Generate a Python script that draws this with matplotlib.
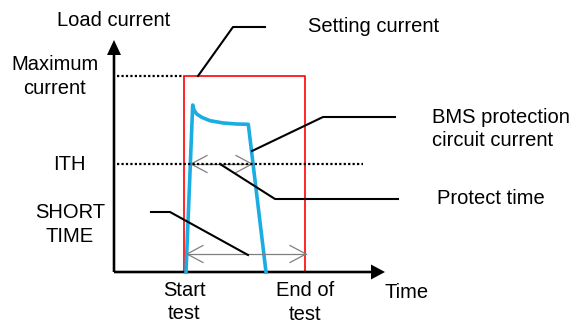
import matplotlib as mpl
mpl.use('Agg')
import matplotlib.pyplot as plt

plt.rcParams['font.family'] = ['Liberation Sans', 'DejaVu Sans']

# levels on the current axis and instants on the time axis (arbitrary units)
i_max = 196
i_ith = 108
i_short = 18
t_start = 70
t_end = 191
t_axis_end = 271
i_axis_end = 232

# BMS protection circuit current trace
bms_t = [72, 78.7, 80, 82.7, 87.7, 96, 109.3, 122.7, 134.3, 152]
bms_i = [0, 167, 162, 158, 154.7, 151.3, 149, 148, 147.7, 0]

# protect time / short time spans
protect_span = [77, 138]
short_span = [73, 192]

# leader lines (polyline points)
lead_setting = ([84, 119, 151], [196, 245, 245])
lead_bms = ([138, 209, 281], [121, 155, 155])
lead_protect = ([106, 161, 284], [108, 73, 73])
lead_short = ([37, 56, 134], [60, 60, 17])

fig = plt.figure(figsize=(5.79, 3.24), dpi=100)
ax = fig.add_axes([0, 0, 1, 1])
ax.set_xlim(-114, 465)
ax.set_ylim(-52, 272)
ax.axis('off')

fs = 14.5
ls = 1.3
gray = '#808080'

# axes with arrows
ax.arrow(0, 0, 0, i_axis_end, width=2.6, head_width=14, head_length=15,
         length_includes_head=True, fc='black', ec='none', zorder=3)
ax.arrow(0, 0, t_axis_end, 0, width=2.6, head_width=15, head_length=14,
         length_includes_head=True, fc='black', ec='none', zorder=3)

# dotted reference levels
ax.plot([3, t_start], [i_max, i_max], color='black', lw=1.6, ls=(0, (1, 1)))
ax.plot([3, 249], [i_ith, i_ith], color='black', lw=1.6, ls=(0, (1, 1)), zorder=4)

# setting current (red)
ax.plot([t_start, t_start, t_end, t_end], [0, i_max, i_max, 0], color='#FF0000', lw=1.2, zorder=2)

# BMS current (blue)
ax.plot(bms_t, bms_i, color='#1AADE4', lw=2.6, solid_joinstyle='round', zorder=3)

# double arrows with open heads
def span_arrow(x0, x1, y):
    hl, hw = 16, 8.5
    ax.plot([x0, x1], [y, y], color=gray, lw=0.9, zorder=3)
    ax.plot([x0 + hl, x0, x0 + hl], [y + hw, y, y - hw], color=gray, lw=0.9, zorder=3)
    ax.plot([x1 - hl, x1, x1 - hl], [y + hw, y, y - hw], color=gray, lw=0.9, zorder=3)

span_arrow(protect_span[0], protect_span[1], i_ith)
span_arrow(short_span[0], short_span[1], i_short)

# leader lines
for xs, ys in [lead_setting, lead_bms, lead_protect, lead_short]:
    ax.plot(xs, ys, color='black', lw=1.5, zorder=5)

# labels
ax.text(0, 251.5, 'Load current', fontsize=fs, ha='center', va='center')
ax.text(-59, 195.5, 'Maximum\ncurrent', fontsize=fs, ha='center', va='center', linespacing=ls)
ax.text(-45, i_ith, 'ITH', fontsize=fs, ha='center', va='center')
ax.text(-44, 47.5, 'SHORT\nTIME', fontsize=fs, ha='center', va='center', linespacing=ls)
ax.text(194, 245, 'Setting current', fontsize=fs, ha='left', va='center')
ax.text(318, 143, 'BMS protection\ncircuit current', fontsize=fs, ha='left', va='center', linespacing=ls)
ax.text(323, 73, 'Protect time', fontsize=fs, ha='left', va='center')
ax.text(t_start, -30, 'Start\ntest', fontsize=fs, ha='center', va='center', linespacing=ls)
ax.text(t_end, -30.5, 'End of\ntest', fontsize=fs, ha='center', va='center', linespacing=ls)
ax.text(293, -20, 'Time', fontsize=fs, ha='center', va='center')

fig.savefig('out.png', dpi=100)
